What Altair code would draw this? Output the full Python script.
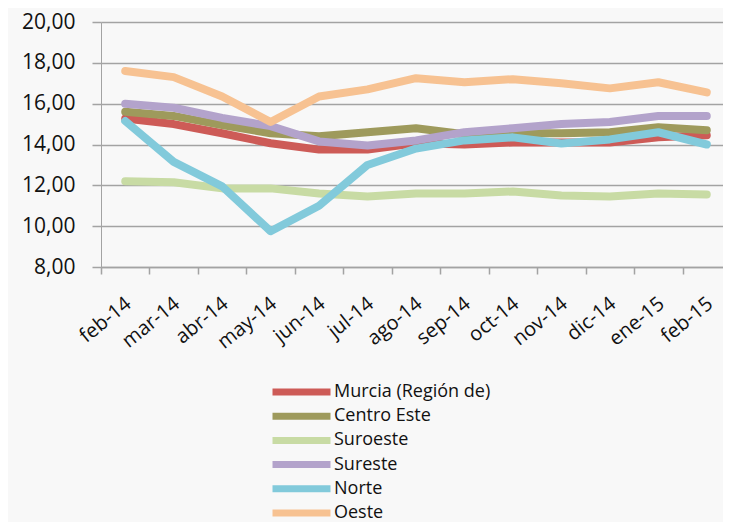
import altair as alt
import pandas as pd

months = ["feb-14", "mar-14", "abr-14", "may-14", "jun-14", "jul-14", "ago-14",
          "sep-14", "oct-14", "nov-14", "dic-14", "ene-15", "feb-15"]

series_names = ["Murcia (Región de)", "Centro Este", "Suroeste", "Sureste", "Norte", "Oeste"]
series_colors = ["#cd5b57", "#9e9a5c", "#c8dba4", "#b3a3cb", "#82cadb", "#f7c292"]

murcia = [15.27, 15.0, 14.55, 14.06, 13.75, 13.75, 14.06, 14.0, 14.1, 14.1, 14.1, 14.35, 14.45]
centro_este = [15.6, 15.4, 14.95, 14.55, 14.4, 14.6, 14.8, 14.5, 14.55, 14.55, 14.6, 14.85, 14.7]
suroeste = [12.2, 12.15, 11.85, 11.85, 11.6, 11.45, 11.6, 11.6, 11.7, 11.5, 11.45, 11.6, 11.55]
sureste = [16.0, 15.8, 15.3, 14.9, 14.15, 13.95, 14.2, 14.6, 14.8, 15.0, 15.1, 15.4, 15.4]
norte = [15.15, 13.15, 11.95, 9.75, 11.0, 13.0, 13.8, 14.2, 14.35, 14.05, 14.25, 14.6, 14.0]
oeste = [17.6, 17.3, 16.35, 15.1, 16.35, 16.7, 17.25, 17.05, 17.2, 17.0, 16.75, 17.05, 16.55]

y_ticks = [8, 10, 12, 14, 16, 18, 20]

values = [murcia, centro_este, suroeste, sureste, norte, oeste]
rows = []
for si, (name, vals) in enumerate(zip(series_names, values)):
    for mi, (m, v) in enumerate(zip(months, vals)):
        rows.append({"serie": name, "mes": m, "valor": v, "si": si, "mi": mi})
df = pd.DataFrame(rows)

FONT = "Open Sans"
GRID = "#a3a3a3"

chart = alt.Chart(df).mark_line(
    strokeWidth=8, strokeCap="round", strokeJoin="round"
).encode(
    x=alt.X("mes:N", sort=months, bandPosition=0.5,
            scale=alt.Scale(type="band", domain=months, paddingInner=0, paddingOuter=0),
            axis=alt.Axis(title=None, tickBand="extent", grid=False,
                          domainColor=GRID, domainWidth=1.5, tickColor=GRID, tickWidth=1.5,
                          tickSize=7, labelAngle=-39, labelAlign="right", labelBaseline="middle",
                          labelPadding=27, labelOffset=3, labelFont=FONT, labelFontSize=20,
                          labelColor="#111111", labelOverlap=False)),
    y=alt.Y("valor:Q",
            scale=alt.Scale(domain=[8, 20], nice=False, zero=False),
            axis=alt.Axis(title=None, values=y_ticks, grid=True, gridColor=GRID, gridWidth=1.5,
                          domain=True, domainColor=GRID, domainWidth=1, tickColor=GRID,
                          tickWidth=1.5, tickSize=9, labelPadding=17,
                          labelExpr="replace(format(datum.value, '.2f'), '.', ',')",
                          labelFont=FONT, labelFontSize=21, labelColor="#111111")),
    color=alt.Color("serie:N", sort=series_names,
                    scale=alt.Scale(domain=series_names, range=series_colors),
                    legend=alt.Legend(title=None, orient="none", legendX=168, legendY=359,
                                      symbolType="stroke", symbolSize=3364,
                                      symbolStrokeWidth=7, clipHeight=22, rowPadding=2.2,
                                      labelOffset=0, labelFont=FONT, labelFontSize=18,
                                      labelLimit=400, labelColor="#111111", padding=0)),
    detail="serie:N",
    order="mi:Q",
).properties(
    width=630,
    height=245,
    autosize=alt.AutoSizeParams(type="none"),
    padding={"left": 93, "top": 14, "right": -8, "bottom": 255},
    background="#f8f8f8",
).configure_view(stroke=None)

chart.save("out.html", embed_options={"renderer": "svg", "actions": False})
